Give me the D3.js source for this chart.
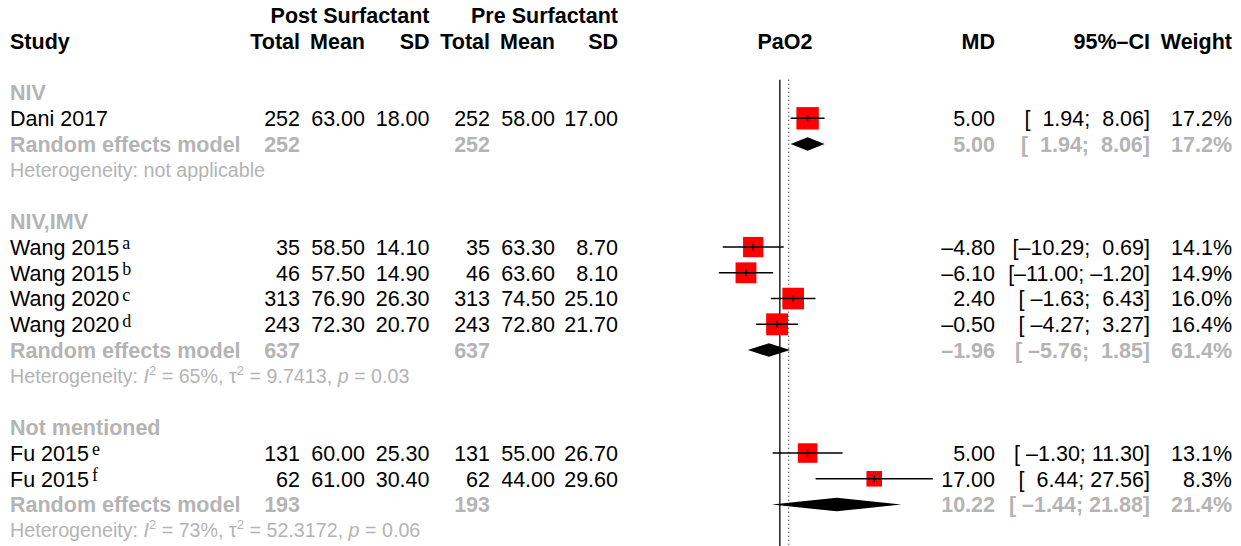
<!DOCTYPE html>
<html>
<head>
<meta charset="utf-8">
<script src="https://cdn.jsdelivr.net/npm/d3@7"></script>
<style>
  body { margin: 0; background: #fff; }
  svg text { font-family: "Liberation Sans", Arial, Helvetica, sans-serif; white-space: pre; }
</style>
</head>
<body>
<div id="chart"></div>
<script>
// subgroups
const groups = ["NIV", "NIV,IMV", "Not mentioned"];

// studies
const studies = ["Dani 2017", "Wang 2015", "Wang 2015", "Wang 2020", "Wang 2020", "Fu 2015", "Fu 2015"];
const notes = ["", "a", "b", "c", "d", "e", "f"];
const studyGroup = [0, 1, 1, 1, 1, 2, 2];
const postTotal = [252, 35, 46, 313, 243, 131, 62];
const postMean = [63.00, 58.50, 57.50, 76.90, 72.30, 60.00, 61.00];
const postSD = [18.00, 14.10, 14.90, 26.30, 20.70, 25.30, 30.40];
const preTotal = [252, 35, 46, 313, 243, 131, 62];
const preMean = [58.00, 63.30, 63.60, 74.50, 72.80, 55.00, 44.00];
const preSD = [17.00, 8.70, 8.10, 25.10, 21.70, 26.70, 29.60];
const md = [5.00, -4.80, -6.10, 2.40, -0.50, 5.00, 17.00];
const ciLow = [1.94, -10.29, -11.00, -1.63, -4.27, -1.30, 6.44];
const ciHigh = [8.06, 0.69, -1.20, 6.43, 3.27, 11.30, 27.56];
const weight = [17.2, 14.1, 14.9, 16.0, 16.4, 13.1, 8.3];

// random effects model per subgroup
const groupPostTotal = [252, 637, 193];
const groupPreTotal = [252, 637, 193];
const groupMD = [5.00, -1.96, 10.22];
const groupLow = [1.94, -5.76, -1.44];
const groupHigh = [8.06, 1.85, 21.88];
const groupWeight = [17.2, 61.4, 21.4];
const hetI2 = [null, "65%", "73%"];
const hetTau2 = [null, "9.7413", "52.3172"];
const hetP = [null, "0.03", "0.06"];

// overall effect (dotted line)
const overallMD = 1.6;
const xlim = [-28, 30];

const width = 1241, height = 546;
const fs = 21.5, fsHet = 19.7;
const grey = "#b4b4b4";

let svg = d3.select("#chart").append("svg")
    .attr("width", width)
    .attr("height", height);

let x = d3.scaleLinear().domain(xlim).range([624.4, 946.4]);
let y = d3.scaleLinear().domain([0, 19]).range([41.05, 530.3]);
let rowH = y(1) - y(0);

// column right edges
let col = {post_total: 300, post_mean: 365, post_sd: 429.5,
    pre_total: 490, pre_mean: 555, pre_sd: 618, md: 995, ci: 1150, w: 1232};

function fmt2(v) {
    return v.toFixed(2).replace("-", "\u2013");
}

// pad the CI bounds to a common width like R does
let allLow = ciLow.concat(groupLow).map(fmt2);
let allHigh = ciHigh.concat(groupHigh).map(fmt2);
let wLow = d3.max(allLow, s => s.length);
let wHigh = d3.max(allHigh, s => s.length);
function fmtCI(lo, hi) {
    return "[" + fmt2(lo).padStart(wLow, " ") + "; " + fmt2(hi).padStart(wHigh, " ") + "]";
}

function txt(xp, row, s, opts) {
    opts = opts || {};
    return svg.append("text")
        .attr("x", xp)
        .attr("y", y(row) + 0.36 * (opts.size || fs))
        .attr("text-anchor", opts.anchor || "end")
        .attr("font-size", opts.size || fs)
        .attr("font-weight", opts.bold ? "bold" : null)
        .attr("fill", opts.color || "#000")
        .text(s);
}

// headers
txt(col.post_sd, -1, "Post Surfactant", {bold: true});
txt(col.pre_sd, -1, "Pre Surfactant", {bold: true});
txt(10, 0, "Study", {bold: true, anchor: "start"});
[["post_total", "Total"], ["post_mean", "Mean"], ["post_sd", "SD"],
 ["pre_total", "Total"], ["pre_mean", "Mean"], ["pre_sd", "SD"],
 ["md", "MD"], ["ci", "95%\u2013CI"], ["w", "Weight"]].forEach(function (h) {
    txt(col[h[0]], 0, h[1], {bold: true});
});
txt(785, 0, "PaO2", {bold: true, anchor: "middle"});

// reference lines
svg.append("line")
    .attr("x1", x(0)).attr("x2", x(0))
    .attr("y1", y(2) - rowH / 2).attr("y2", height + 10)
    .attr("stroke", "#000").attr("stroke-width", 1.3);
svg.append("line")
    .attr("x1", x(overallMD)).attr("x2", x(overallMD))
    .attr("y1", y(2) - rowH / 2).attr("y2", height + 10)
    .attr("stroke", "#000").attr("stroke-width", 1)
    .attr("stroke-dasharray", "1,3");

let boxScale = d3.scaleSqrt().domain([0, d3.max(weight)]).range([0, 22.4]);

let row = 1;
groups.forEach(function (g, gi) {
    row += 1;
    txt(10, row, g, {bold: true, color: grey, anchor: "start"});
    row += 1;

    studies.forEach(function (s, i) {
        if (studyGroup[i] !== gi) return;
        let t = txt(10, row, s, {anchor: "start"});
        if (notes[i]) {
            t.append("tspan")
                .attr("dx", 3).attr("dy", -5.5)
                .attr("font-family", "'Liberation Serif', 'DejaVu Serif', serif")
                .attr("font-size", 18)
                .text(notes[i]);
        }
        txt(col.post_total, row, postTotal[i]);
        txt(col.post_mean, row, postMean[i].toFixed(2));
        txt(col.post_sd, row, postSD[i].toFixed(2));
        txt(col.pre_total, row, preTotal[i]);
        txt(col.pre_mean, row, preMean[i].toFixed(2));
        txt(col.pre_sd, row, preSD[i].toFixed(2));
        txt(col.md, row, fmt2(md[i]));
        txt(col.ci, row, fmtCI(ciLow[i], ciHigh[i]));
        txt(col.w, row, weight[i].toFixed(1) + "%");

        // square, CI line, centre tick
        let side = boxScale(weight[i]);
        svg.append("rect")
            .attr("x", x(md[i]) - side / 2).attr("y", y(row) - side / 2)
            .attr("width", side).attr("height", side)
            .attr("fill", "#ff0000");
        svg.append("line")
            .attr("x1", x(ciLow[i])).attr("x2", x(ciHigh[i]))
            .attr("y1", y(row)).attr("y2", y(row))
            .attr("stroke", "#000").attr("stroke-width", 1.4);
        svg.append("line")
            .attr("x1", x(md[i])).attr("x2", x(md[i]))
            .attr("y1", y(row) - 3.5).attr("y2", y(row) + 3.5)
            .attr("stroke", "#000").attr("stroke-width", 1.4);
        row += 1;
    });

    // random effects model row
    txt(10, row, "Random effects model", {bold: true, color: grey, anchor: "start"});
    txt(col.post_total, row, groupPostTotal[gi], {bold: true, color: grey});
    txt(col.pre_total, row, groupPreTotal[gi], {bold: true, color: grey});
    txt(col.md, row, fmt2(groupMD[gi]), {bold: true, color: grey});
    txt(col.ci, row, fmtCI(groupLow[gi], groupHigh[gi]), {bold: true, color: grey});
    txt(col.w, row, groupWeight[gi].toFixed(1) + "%", {bold: true, color: grey});
    let yc = y(row), hh = 6.8;
    svg.append("path")
        .attr("d", "M" + x(groupLow[gi]) + "," + yc +
            "L" + x(groupMD[gi]) + "," + (yc - hh) +
            "L" + x(groupHigh[gi]) + "," + yc +
            "L" + x(groupMD[gi]) + "," + (yc + hh) + "Z")
        .attr("fill", "#000");
    row += 1;

    // heterogeneity
    let het = txt(10, row, "Heterogeneity: ", {anchor: "start", color: grey, size: fsHet});
    if (hetI2[gi] === null) {
        het.append("tspan").text("not applicable");
    } else {
        het.append("tspan").attr("font-style", "italic").text("I");
        het.append("tspan").attr("font-size", 13).attr("dy", -8).text("2");
        het.append("tspan").attr("dy", 8).text(" = " + hetI2[gi] + ", \u03c4");
        het.append("tspan").attr("font-size", 13).attr("dy", -8).text("2");
        het.append("tspan").attr("dy", 8).text(" = " + hetTau2[gi] + ", ");
        het.append("tspan").attr("font-style", "italic").text("p");
        het.append("tspan").text(" = " + hetP[gi]);
    }
    row += 1;
});
</script>
</body>
</html>
